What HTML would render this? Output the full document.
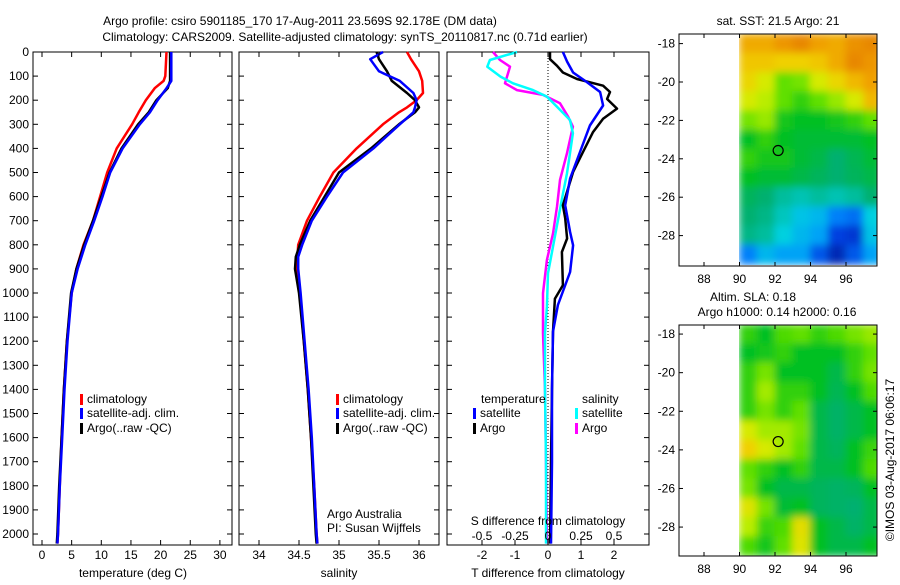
<!DOCTYPE html>
<html><head><meta charset="utf-8"><style>
body{margin:0;background:#fff;}
svg text{font-family:"Liberation Sans",sans-serif;font-size:12px;fill:#000;}
</style></head><body>
<svg id="c" width="900" height="580" xmlns="http://www.w3.org/2000/svg">
<defs>
<filter id="bl" x="0" y="0" width="1" height="1"><feGaussianBlur stdDeviation="4" edgeMode="duplicate"/></filter>
<clipPath id="cm1"><rect x="739" y="34" width="138" height="232"/></clipPath>
<clipPath id="cm2"><rect x="739" y="325" width="138" height="231"/></clipPath>
</defs>
</svg>
<script>
const depthsT=[0,100,120,150,200,250,300,400,500,600,700,800,900,1000,1200,1400,1600,1800,2000,2040];
const tClim=[21,20.8,20.5,19,17.5,16.3,15.2,12.6,11,9.8,8.6,7,5.8,5,4.2,3.7,3.3,3,2.7,2.6];
const tSat=[21.8,21.8,21.8,21,19.5,18.2,16.5,13.6,11.5,10.2,8.8,7.3,6,5,4.3,3.8,3.4,3,2.7,2.6];
const tArgo=[21.6,21.6,21.6,21.2,19.3,18,16.2,13.4,11.4,10,8.6,7.1,5.8,4.9,4.2,3.7,3.3,2.9,2.6,2.5];
const depthsS=[0,30,80,120,170,200,230,250,300,400,500,600,700,800,850,900,1000,1200,1400,1600,1800,2000,2040];
const sClim=[35.85,35.9,36.0,36.04,36.05,35.97,35.85,35.75,35.55,35.22,34.93,34.76,34.6,34.49,34.48,34.47,34.51,34.56,34.61,34.65,34.69,34.72,34.73];
const sSat=[35.55,35.39,35.5,35.76,35.93,35.97,35.95,35.93,35.76,35.43,35.05,34.85,34.66,34.54,34.49,34.49,34.52,34.57,34.62,34.66,34.69,34.72,34.73];
const sArgo=[35.47,35.5,35.6,35.66,35.85,35.95,36.0,35.95,35.75,35.4,35.0,34.82,34.64,34.51,34.46,34.45,34.5,34.56,34.61,34.65,34.68,34.71,34.72];
const dTsatD=[0,40,85,125,166,222,305,415,525,636,747,802,913,1050,1160,1400,1700,2040];
const dTsat=[0.45,0.58,0.76,1.18,1.58,1.67,1.27,0.97,0.67,0.52,0.67,0.76,0.67,0.30,0.15,0.12,0.12,0.09];
const dTargoD=[0,30,57,85,112,140,166,195,235,277,333,415,498,636,690,774,830,968,1024,1160,1400,1700,2040];
const dTargo=[0.06,0.06,0.27,0.45,0.88,1.67,1.88,1.79,2.09,1.67,1.36,1.06,0.76,0.45,0.52,0.58,0.42,0.45,0.21,0.15,0.12,0.09,0.06];
const dSsatD=[0,33,61,102,130,158,185,227,282,337,420,503,587,697,808,918,1057,1167,1400,1700,2040];
const dSsat=[-0.235,-0.44,-0.46,-0.36,-0.265,-0.114,-0.008,0.068,0.167,0.189,0.167,0.144,0.114,0.076,0.038,0,-0.008,-0.023,-0.023,-0.015,-0.015];
const dSargoD=[0,33,61,89,130,158,178,213,268,310,420,531,642,753,863,1001,1167,1400,1700,2040];
const dSargo=[-0.417,-0.364,-0.288,-0.303,-0.326,-0.235,-0.038,0.091,0.152,0.189,0.144,0.091,0.068,0.038,-0.008,-0.038,-0.038,-0.023,-0.015,-0.008];
const mapLons=[90,91,92,93,94,95,96,97];
const mapLats=[-18,-19,-20,-21,-22,-23,-24,-25,-26,-27,-28,-29];
const sstGrid=[
[0.88,0.88,0.92,0.95,0.9,0.88,0.93,0.95],[0.82,0.82,0.8,0.8,0.82,0.88,0.95,0.92],
[0.78,0.72,0.6,0.62,0.72,0.78,0.85,0.9],[0.72,0.68,0.6,0.55,0.6,0.65,0.72,0.85],
[0.62,0.65,0.52,0.5,0.5,0.52,0.55,0.6],[0.5,0.55,0.5,0.48,0.48,0.48,0.48,0.5],
[0.55,0.52,0.52,0.48,0.46,0.42,0.45,0.48],[0.5,0.48,0.48,0.46,0.44,0.42,0.44,0.46],
[0.44,0.42,0.38,0.36,0.38,0.36,0.38,0.42],[0.42,0.4,0.35,0.3,0.28,0.2,0.18,0.32],
[0.4,0.38,0.32,0.28,0.25,0.12,0.1,0.3],[0.2,0.28,0.25,0.25,0.15,0.06,0.15,0.25]];
const slaGrid=[
[0.55,0.5,0.58,0.6,0.55,0.58,0.62,0.65],[0.5,0.52,0.55,0.5,0.5,0.5,0.55,0.6],
[0.55,0.62,0.5,0.5,0.5,0.46,0.55,0.62],[0.55,0.66,0.55,0.55,0.5,0.45,0.5,0.58],
[0.55,0.62,0.55,0.6,0.46,0.43,0.46,0.5],[0.72,0.66,0.66,0.62,0.46,0.43,0.46,0.5],
[0.8,0.72,0.66,0.6,0.46,0.44,0.5,0.56],[0.6,0.55,0.5,0.55,0.46,0.46,0.5,0.58],
[0.62,0.5,0.46,0.46,0.44,0.43,0.44,0.5],[0.74,0.62,0.48,0.5,0.44,0.43,0.42,0.46],
[0.68,0.56,0.58,0.76,0.5,0.46,0.43,0.46],[0.58,0.52,0.6,0.74,0.5,0.46,0.46,0.5]];
const argoLon=92.178, argoLat=-23.569;

const S=document.getElementById('c');
const NS='http://www.w3.org/2000/svg';
function el(t,a,p){const e=document.createElementNS(NS,t);for(const k in a)e.setAttribute(k,a[k]);(p||S).appendChild(e);return e;}
function txt(x,y,s,anchor,name,extra){const e=el('text',Object.assign({x:x,y:y,'text-anchor':anchor||'middle'},extra||{}));e.textContent=s;


return e;}
const yD=d=>52+d*0.241;
const xT=t=>42+t*5.93;
const xS=s=>259+(s-34)*80;
const xDT=t=>548+t*33;
const xDS=s=>548+s*132;

txt(300,25,'Argo profile: csiro 5901185_170 17-Aug-2011 23.569S 92.178E (DM data)','middle','title-line-1');
txt(345,41,'Climatology: CARS2009. Satellite-adjusted climatology: synTS_20110817.nc (0.71d earlier)','middle','title-line-2');

function panel(x0,x1,name){
 const r=el('rect',{x:x0,y:52,width:x1-x0,height:493,fill:'none',stroke:'#000','stroke-width':1});
 
 
 for(let d=0;d<=2000;d+=100){const y=yD(d);
  el('line',{x1:x0,x2:x0+5,y1:y,y2:y,stroke:'#000'});el('line',{x1:x1-5,x2:x1,y1:y,y2:y,stroke:'#000'});}
}
panel(33,232,'temperature-panel');panel(239,439,'salinity-panel');panel(447,649,'difference-panel');
for(let d=0;d<=2000;d+=100){txt(29,yD(d)+4,String(d),'end','y-tick-label');}
function line(xs,ds,fx,col,name,w){
 const pts=xs.map((v,i)=>fx(v).toFixed(1)+','+yD(ds[i]).toFixed(1)).join(' ');
 const p=el('polyline',{points:pts,fill:'none',stroke:col,'stroke-width':w||2.5,'stroke-linejoin':'round'});
 
 
}
line(tClim,depthsT,xT,'#f00','temp-climatology-line');
line(tArgo,depthsT,xT,'#000','temp-argo-line');
line(tSat,depthsT,xT,'#00f','temp-satellite-line');
line(sClim,depthsS,xS,'#f00','sal-climatology-line');
line(sArgo,depthsS,xS,'#000','sal-argo-line');
line(sSat,depthsS,xS,'#00f','sal-satellite-line');
el('line',{x1:548,x2:548,y1:52,y2:545,stroke:'#000','stroke-dasharray':'1,2'});
line(dSargo,dSargoD,xDS,'#f0f','sdiff-argo-line');
line(dSsat,dSsatD,xDS,'#0ff','sdiff-satellite-line');
line(dTargo,dTargoD,xDT,'#000','tdiff-argo-line');
line(dTsat,dTsatD,xDT,'#00f','tdiff-satellite-line');

[0,5,10,15,20,25,30].forEach(v=>{el('line',{x1:xT(v),x2:xT(v),y1:545,y2:540,stroke:'#000'});el('line',{x1:xT(v),x2:xT(v),y1:52,y2:57,stroke:'#000'});txt(xT(v),559,String(v),'middle','temp-x-tick');});
txt(133,577,'temperature (deg C)','middle','temp-x-title');
[34,34.5,35,35.5,36].forEach(v=>{el('line',{x1:xS(v),x2:xS(v),y1:545,y2:540,stroke:'#000'});el('line',{x1:xS(v),x2:xS(v),y1:52,y2:57,stroke:'#000'});txt(xS(v),559,String(v),'middle','sal-x-tick');});
txt(339,577,'salinity','middle','sal-x-title');
[-2,-1,0,1,2].forEach(v=>{el('line',{x1:xDT(v),x2:xDT(v),y1:545,y2:540,stroke:'#000'});el('line',{x1:xDT(v),x2:xDT(v),y1:52,y2:57,stroke:'#000'});txt(xDT(v),559,String(v),'middle','tdiff-x-tick');});
txt(548,577,'T difference from climatology','middle','tdiff-x-title');
[-0.5,-0.25,0,0.25,0.5].forEach(v=>{txt(xDS(v),540,String(v),'middle','sdiff-tick');});
txt(548,525,'S difference from climatology','middle','sdiff-title');

function leg(x,y,col,label,name){el('rect',{x:x,y:y-9,width:3,height:11,fill:col});txt(x+7,y,label,'start',name);}
[[80,'temp'],[336,'sal']].forEach(([x,n])=>{leg(x,403,'#f00','climatology',n+'-legend-climatology');leg(x,417,'#00f','satellite-adj. clim.',n+'-legend-satellite');leg(x,432,'#000','Argo(..raw -QC)',n+'-legend-argo');});
txt(481,403,'temperature','start','diff-legend-temp-header');
leg(473,417,'#00f','satellite','diff-legend-tsat');leg(473,432,'#000','Argo','diff-legend-targo');
txt(582,403,'salinity','start','diff-legend-sal-header');
leg(575,417,'#0ff','satellite','diff-legend-ssat');leg(575,432,'#f0f','Argo','diff-legend-sargo');
txt(327,518,'Argo Australia','start','credit-line-1');txt(327,532,'PI: Susan Wijffels','start','credit-line-2');

const stops=[[0,[0,18,138]],[0.12,[0,64,224]],[0.22,[0,144,255]],[0.32,[0,208,224]],[0.42,[0,176,112]],[0.5,[0,192,32]],[0.6,[96,224,0]],[0.7,[208,240,0]],[0.8,[240,208,0]],[0.9,[240,160,0]],[1,[224,112,0]]];
function cmap(v){for(let i=1;i<stops.length;i++){if(v<=stops[i][0]){const a=stops[i-1],b=stops[i],t=(v-a[0])/(b[0]-a[0]);return 'rgb('+a[1].map((c,k)=>Math.round(c+(b[1][k]-c)*t)).join(',')+')';}}return 'rgb(224,112,0)';}
function map(grid,top,bot,latTop,pxLat,clip,name){
 const xL=lo=>739.5+(lo-90)*17.75, yL=la=>top+(latTop-la)*pxLat;
 const g=el('g',{'clip-path':'url(#'+clip+')'});
 
 
 const g2=el('g',{filter:'url(#bl)'},g);
 grid.forEach((row,i)=>row.forEach((v,j)=>{
  el('rect',{x:xL(mapLons[j])-0.5,y:yL(mapLats[i]+0.5)-0.5,width:18.8,height:pxLat+1,fill:cmap(v)},g2);}));
 el('rect',{x:679,y:top,width:198,height:bot-top,fill:'none',stroke:'#000'});
 [88,90,92,94,96].forEach(v=>{el('line',{x1:xL(v),x2:xL(v),y1:bot,y2:bot-4,stroke:'#000'});el('line',{x1:xL(v),x2:xL(v),y1:top,y2:top+4,stroke:'#000'});txt(xL(v),bot+17,String(v),'middle','map-x-tick');});
 [-18,-20,-22,-24,-26,-28].forEach(v=>{el('line',{x1:679,x2:683,y1:yL(v),y2:yL(v),stroke:'#000'});el('line',{x1:873,x2:877,y1:yL(v),y2:yL(v),stroke:'#000'});txt(675,yL(v)+4,String(v),'end','map-y-tick');});
 const c=el('circle',{cx:xL(argoLon),cy:yL(argoLat),r:5,fill:'none',stroke:'#000','stroke-width':1.2});
 
 
}
map(sstGrid,34,266,-17.5,19.2,'cm1','sst-map');
map(slaGrid,325,556,-17.53,19.3,'cm2','sla-map');
txt(778,25,'sat. SST: 21.5 Argo: 21','middle','sst-map-title');
txt(753,301,'Altim. SLA: 0.18','middle','sla-map-title-1');
txt(777,316,'Argo h1000: 0.14 h2000: 0.16','middle','sla-map-title-2');
txt(0,0,'©IMOS 03-Aug-2017 06:06:17','middle','imos-credit',{transform:'translate(894,460) rotate(-90)'});
</script>
</body></html>
